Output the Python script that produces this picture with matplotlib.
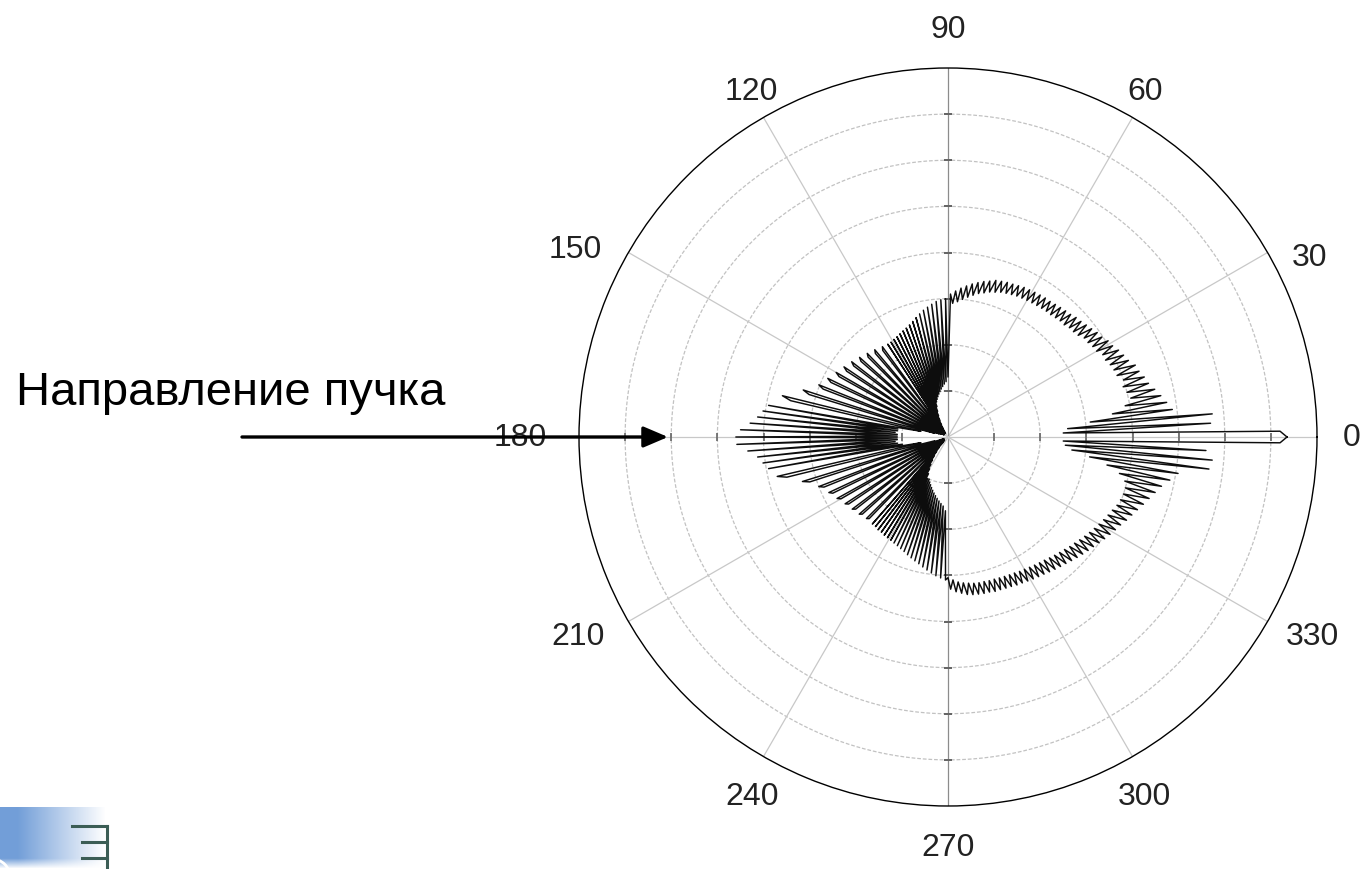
import numpy as np
import matplotlib.pyplot as plt
from matplotlib.patches import FancyArrowPatch

plt.rcParams['font.family'] = ['Liberation Sans', 'DejaVu Sans']

# angular distribution, one value per degree (ring units)
r_q1 = [7.35, 7.2, 2.5, 5.7, 2.6, 5.75, 3.1, 4.9, 3.6, 4.8,
        3.9, 4.7, 4.05, 4.6, 4.0, 4.5, 3.95, 4.45, 4.0, 4.38,
        3.9, 4.35, 3.88, 4.25, 3.85, 4.2, 3.8, 4.15, 3.8, 4.08,
        3.72, 4.05, 3.7, 3.98, 3.66, 3.95, 3.65, 3.9, 3.58, 3.86,
        3.55, 3.82, 3.54, 3.8, 3.5, 3.76, 3.5, 3.74, 3.48, 3.72,
        3.46, 3.7, 3.46, 3.68, 3.45, 3.68, 3.44, 3.67, 3.43, 3.66,
        3.42, 3.65, 3.41, 3.64, 3.4, 3.62, 3.38, 3.6, 3.36, 3.59,
        3.34, 3.57, 3.3, 3.55, 3.27, 3.5, 3.22, 3.46, 3.18, 3.41,
        3.12, 3.36, 3.06, 3.3, 3.0, 3.24, 2.94, 3.17, 2.9, 3.1]
r_q2 = [1.3, 3.0, 1.2, 2.98, 1.15, 2.95, 1.1, 2.9, 1.05, 2.85,
        1.0, 2.8, 0.95, 2.74, 0.9, 2.68, 0.85, 2.62, 0.8, 2.57,
        0.7, 2.53, 0.6, 2.5, 0.5, 2.47, 0.4, 2.44, 0.3, 2.42,
        0.2, 2.4, 0.15, 2.4, 0.1, 0.2, 2.42, 2.35, 0.1, 0.2,
        2.47, 2.4, 0.1, 0.2, 2.52, 2.45, 0.1, 0.2, 2.58, 2.5,
        0.1, 0.2, 2.65, 2.56, 0.1, 0.2, 2.72, 2.62, 0.1, 0.2,
        2.8, 2.7, 0.1, 0.25, 2.9, 2.8, 0.15, 0.3, 3.02, 2.9,
        0.2, 0.4, 3.3, 3.15, 0.3, 0.6, 3.7, 3.5, 0.6, 0.9,
        3.95, 1.1, 4.05, 1.1, 4.15, 1.15, 4.3, 1.1, 4.5, 1.1]
r_q3 = [4.6, 1.1, 4.58, 1.1, 4.35, 1.15, 4.15, 1.1, 4.05, 1.0,
        3.95, 0.9, 0.6, 3.8, 3.6, 0.5, 0.3, 3.3, 3.15, 0.2,
        0.15, 3.0, 2.9, 0.1, 0.2, 2.85, 2.78, 0.1, 0.2, 2.75,
        2.68, 0.1, 0.2, 2.66, 2.6, 0.1, 0.2, 2.6, 2.54, 0.1,
        0.2, 2.55, 2.5, 0.1, 0.2, 2.5, 2.46, 0.15, 0.25, 2.5,
        0.3, 2.5, 0.4, 2.52, 0.5, 2.52, 0.6, 2.54, 0.7, 2.55,
        0.8, 2.56, 0.9, 2.58, 1.0, 2.6, 1.0, 2.63, 1.05, 2.66,
        1.1, 2.7, 1.15, 2.74, 1.2, 2.78, 1.25, 2.82, 1.3, 2.87,
        1.35, 2.92, 1.4, 2.97, 1.45, 3.02, 1.5, 3.06, 1.6, 3.1]
r_q4 = [3.05, 3.3, 3.1, 3.36, 3.15, 3.4, 3.18, 3.44, 3.2, 3.46,
        3.22, 3.47, 3.23, 3.48, 3.23, 3.48, 3.24, 3.5, 3.24, 3.5,
        3.25, 3.51, 3.26, 3.52, 3.27, 3.54, 3.28, 3.55, 3.3, 3.57,
        3.31, 3.59, 3.33, 3.61, 3.35, 3.63, 3.37, 3.66, 3.39, 3.69,
        3.42, 3.72, 3.45, 3.75, 3.48, 3.79, 3.51, 3.83, 3.55, 3.87,
        3.58, 3.91, 3.62, 3.95, 3.66, 4.0, 3.7, 4.05, 3.74, 4.1,
        3.78, 4.15, 3.82, 4.2, 3.86, 4.27, 3.9, 4.33, 3.95, 4.4,
        3.98, 4.48, 4.0, 4.56, 4.0, 4.65, 3.95, 4.75, 3.8, 4.9,
        3.5, 5.05, 3.1, 5.7, 2.7, 5.75, 2.55, 5.6, 2.5, 7.2]

angle_ticks = [0, 30, 60, 90, 120, 150, 180, 210, 240, 270, 300, 330]
angle_labels = [str(a) for a in angle_ticks]
rings = [1, 2, 3, 4, 5, 6, 7, 8]

W, H = 1362, 870
fig = plt.figure(figsize=(W / 100, H / 100), dpi=100)
fig.patch.set_facecolor('white')

# polar plot
cx, cy, R = 948, 438, 369
ax = fig.add_axes([(cx - R) / W, (H - cy - R) / H, 2 * R / W, 2 * R / H],
                  projection='polar')
ax.set_ylim(0, rings[-1])
ax.grid(False)
ax.set_xticks([])
ax.set_yticks([])
ax.spines['polar'].set_color('black')
ax.spines['polar'].set_linewidth(1.0)

circ = np.linspace(0, 2 * np.pi, 721)
for r in rings[:-1]:
    ax.plot(circ, np.full_like(circ, r), color='#c2c2c2', lw=0.9,
            ls=(0, (3, 1.5)), zorder=1)
for a in angle_ticks:
    t = np.deg2rad(a)
    col = '#8c8c8c' if a in (90, 270) else '#c8c8c8'
    ax.plot([t, t], [0, rings[-1]], color=col, lw=0.9, zorder=1)

# small marks where rings cross the main axes
inner = np.array(rings[:-1])
for a in (90, 270):
    ax.plot(np.full(len(inner), np.deg2rad(a)), inner, ls='none', marker='_',
            ms=6, mew=1.2, color='#666666', zorder=2)
for a in (0, 180):
    ax.plot(np.full(len(inner), np.deg2rad(a)), inner, ls='none', marker='|',
            ms=6, mew=1.2, color='#666666', zorder=2)

r_all = np.array(r_q1 + r_q2 + r_q3 + r_q4)
theta = np.deg2rad(np.arange(len(r_all)))
ax.plot(np.append(theta, theta[0]), np.append(r_all, r_all[0]),
        color='#0d0d0d', lw=1.05, zorder=3)

# angle labels around the outer circle (pixel offsets from the centre)
label_offsets = [(404, 0), (362, 180), (197, 346), (0, 408), (-197, 346),
                 (-373, 188), (-428, 0), (-370, -199), (-196, -359),
                 (0, -410), (196, -359), (364, -199)]
for lab, (dx, dy) in zip(angle_labels, label_offsets):
    ax.annotate(lab, xy=(0, 0), xycoords='data', xytext=(dx, dy),
                textcoords='offset pixels', ha='center', va='center',
                fontsize=23, color='#222222', annotation_clip=False)

# beam direction caption and arrow
fig.text(16 / W, (H - 405) / H, 'Направление пучка', fontsize=34,
         ha='left', va='baseline', color='black')
fig.patches.append(FancyArrowPatch(
    (242, H - 438), (668, H - 438), transform=None,
    arrowstyle='-|>,head_length=0.75,head_width=0.32', mutation_scale=20,
    lw=2.4, color='black', shrinkA=0, shrinkB=0, zorder=5))

# corner logo fragment
lax = fig.add_axes([0, 0, 115 / W, 62 / H])
lax.set_xlim(0, 115)
lax.set_ylim(0, 62)
lax.axis('off')
gx = np.linspace(0, 1, 115)
gy = np.linspace(0, 1, 62)
alpha = np.clip(1.2 - gx[None, :] * 1.3, 0, 1) * np.clip(gy[:, None] * 6, 0, 1)
img = np.zeros((62, 115, 4))
img[..., 0] = 0.45
img[..., 1] = 0.62
img[..., 2] = 0.85
img[..., 3] = alpha
lax.imshow(img, extent=(0, 115, 0, 62), origin='lower', aspect='auto')
lax.add_patch(plt.Circle((-8, -8), 18, fill=False, ec='white', lw=2))
lax.plot([107, 107], [0, 43], color='#3b5d55', lw=2.2)
lax.plot([72, 107], [43, 43], color='#3b5d55', lw=2.2)
lax.plot([82, 107], [27, 27], color='#3b5d55', lw=2.2)
lax.plot([82, 107], [11, 11], color='#3b5d55', lw=2.2)

fig.savefig('out.png', dpi=100)
